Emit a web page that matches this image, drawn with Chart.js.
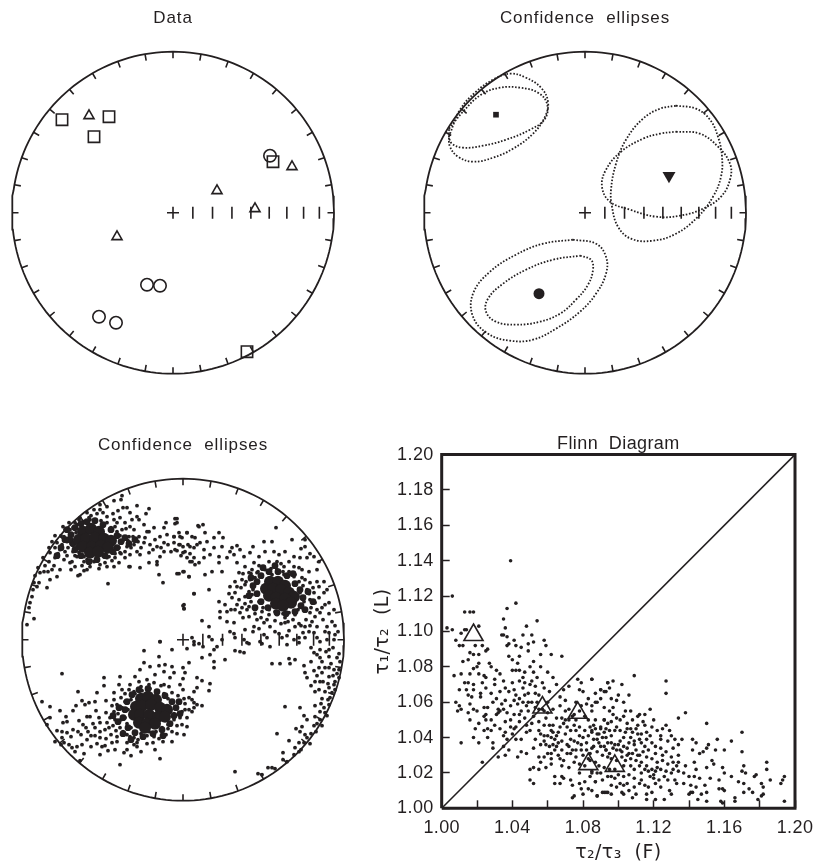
<!DOCTYPE html>
<html>
<head>
<meta charset="utf-8">
<title>AMS stereonets and Flinn diagram</title>
<script src="https://cdn.jsdelivr.net/npm/chart.js@4"></script>
<style>
  html, body { margin: 0; background: #fff; overflow: hidden; }
  canvas { position: absolute; }
</style>
</head>
<body>
<canvas id="netData" width="346" height="400" style="left:0;top:0"></canvas>
<canvas id="netEllipses" width="346" height="400" style="left:412px;top:0"></canvas>
<canvas id="netDots" width="346" height="400" style="left:10px;top:427px"></canvas>
<canvas id="flinn" width="446" height="438" style="left:370px;top:430px"></canvas>
<script>
// Net positions are in net units, the rim is at 161
const netRadius = 161;

// Panel 1: specimen axes
const tau1Squares = [[-111,93],[-64,96],[-79,76],[100,51],[74,-139]];
const tau2Triangles = [[-84,97],[119,46],[44,22],[82,4],[-56,-24]];
const tau3Circles = [[97,57],[-26,-72],[-13,-73],[-74,-104],[-57,-110]];

// Panel 2: means and confidence ellipses
const meanTau1 = [[-89,98]];
const meanTau2 = [[84,37]];
const meanTau3 = [[-46,-81]];
const ellipseTau1Wide = [[-135,79],[-125,103],[-109,121],[-92,133],[-75,139],[-59,135],[-44,125],[-37,111],[-40,96],[-52,79],[-72,64],[-92,55],[-112,51],[-127,56],[-135,66],[-136,76]];
const ellipseTau1Narrow = [[-136,84],[-122,101],[-104,118],[-85,125],[-65,125],[-47,120],[-38,109],[-40,94],[-55,83],[-79,73],[-102,67],[-122,65],[-133,69],[-136,76]];
const ellipseTau2Tall = [[91,107],[111,104],[125,93],[133,76],[137,56],[136,36],[128,16],[113,-4],[91,-21],[68,-28],[46,-26],[33,-14],[27,6],[26,23],[31,49],[41,73],[58,94],[75,104]];
const ellipseTau2Wide = [[91,81],[115,79],[133,66],[145,49],[145,33],[136,16],[118,4],[95,-3],[71,-4],[45,3],[25,11],[17,26],[21,43],[36,61],[58,74],[75,79]];
const ellipseTau3Inner = [[-5,-43],[6,-47],[8,-57],[3,-72],[-9,-87],[-25,-101],[-45,-109],[-69,-112],[-89,-109],[-99,-99],[-97,-86],[-82,-71],[-59,-57],[-32,-47]];
const ellipseTau3Outer = [[-12,-27],[11,-31],[21,-44],[21,-61],[11,-81],[-5,-99],[-29,-116],[-52,-127],[-75,-128],[-97,-121],[-112,-104],[-112,-81],[-95,-59],[-69,-42],[-42,-31]];

// Panel 3: bootstrap axes
const bootstrapCores = [
  [-100,108],[-92,111],[-84,108],[-104,100],[-97,101],[-88,102],[-79,101],[-72,99],[-100,93],[-91,93],[-82,94],[-75,92],[-93,87],[-85,88],
  [87,58],[95,58],[102,54],[83,51],[90,51],[98,50],[106,47],[111,43],[86,44],[93,42],[102,41],[108,37],[93,36],[100,34],
  [-42,-59],[-35,-57],[-27,-60],[-47,-67],[-41,-66],[-32,-65],[-23,-68],[-16,-70],[-49,-75],[-43,-75],[-34,-75],[-25,-77],[-18,-77],[-44,-83],[-36,-84],[-28,-84],[-38,-88]
];
const bootstrapFringes = [
  [-112,105],[-110,96],[-114,100],[-108,112],[-102,116],[-96,118],[-88,119],[-80,115],[-72,110],[-66,104],[-62,98],[-66,92],[-70,88],[-78,84],[-86,80],[-94,78],[-102,84],[-108,90],[-118,100],[-122,92],[-116,110],[-126,84],[-58,102],[-54,96],[-48,100],
  [74,58],[78,64],[86,68],[95,68],[104,64],[112,56],[117,50],[120,42],[118,34],[112,28],[103,26],[94,27],[85,32],[78,38],[74,46],[70,54],[66,44],[72,32],[122,30],[125,48],[110,66],[92,74],[80,72],[130,38],[68,62],
  [-56,-62],[-58,-70],[-60,-78],[-55,-88],[-48,-93],[-40,-97],[-30,-94],[-21,-90],[-13,-84],[-9,-76],[-7,-68],[-11,-62],[-18,-56],[-26,-52],[-35,-49],[-44,-50],[-51,-55],[-64,-68],[-65,-82],[-3,-74],[-4,-62],[-20,-96],[-60,-94],[-70,-76],[-52,-100]
];
const bootstrapDots = [
  [-61,144],[-62,140],[-69,139],[-46,134],[-34,131],[-56,132],[-60,132],[-65,129],[-76,133],[-83,135],[-8,121],[-6,117],[-17,117],[15,114],[-37,126],[-53,127],[-46,123],[-44,120],[-39,115],[-51,120],[-29,112],[-19,112],[-36,108],
  [-16,105],[-9,103],[-4,107],[4,107],[-1,102],[9,103],[-9,97],[-4,95],[0,93],[5,95],[14,95],[-6,89],[2,88],[7,86],[11,92],[4,82],[9,78],[12,75],
  [-28,100],[-23,103],[-19,97],[-26,93],[-33,95],[-39,97],[-34,87],[-43,85],[-19,88],[-23,83],[-26,78],[-34,77],[-43,72],[-53,73],[-26,75],[-6,66],[0,68],[6,63],[-24,65],[-20,57],[-75,56],[11,46],[0,34],[1,31],[-23,-2],
  [-113,110],[-119,103],[-126,97],[-116,98],[-123,90],[-133,87],[-128,82],[-134,78],[-119,80],[-113,77],[-139,68],[-131,70],[-123,70],[-143,67],[-126,63],[-133,60],[-136,52],[-144,57],[-146,53],[-149,57],[-153,37],[-154,32],[-151,43],[-156,15],[-149,21],
  [-103,65],[-105,64],[-96,70],[-99,69],[-111,78],[-106,83],[-99,78],[-86,80],[-83,75],[-76,73],[-69,73],[-54,73],
  [-103,122],[-96,127],[-89,130],[-83,130],[-108,117],[-99,117],[-93,120],[-76,123],[-69,120],[-63,122],[-58,117],[-68,113],[-49,110],[-44,103],[-54,103],[-61,110],[-56,93],[-63,87],[-68,82],[-76,82],[-49,95],[-46,88],[-53,85],[-58,82],[-89,78],[-96,80],[-106,93],[-111,100],[-104,110],
  [-6,121],[-8,116],[16,113],[20,115],[-9,103],[-3,103],[4,107],[12,102],[22,107],[31,102],[36,107],[40,102],[24,98],[17,97],[7,93],[-3,95],[-8,90],[0,87],[11,82],[21,90],[31,92],[39,93],[27,85],[36,83],[21,82],[16,77],[7,78],[36,77],[29,68],[22,65],[39,68],[1,68],[6,63],[-4,66],[11,46],[26,50],[1,35],[1,31],[19,19],[26,13],
  [93,112],[81,98],[89,98],[109,100],[122,100],[122,93],[118,91],[70,93],[54,94],[49,92],[82,88],[91,88],[96,85],[102,88],[127,86],[131,83],[111,83],[117,82],[124,82],[136,78],[94,78],[86,78],[76,83],[67,87],[57,90],[51,85],[44,82],[47,88],[61,83],[54,77],[62,73],[71,77],[81,73],[91,73],[101,73],[111,73],[119,70],[126,68],[134,70],[56,67],[66,67],[74,67],[52,58],[59,60],[67,60],[47,53],[54,53],[62,55],[71,55],[79,63],[89,65],[101,65],[111,63],[119,62],[127,57],[134,58],[141,58],[136,53],[144,50],[141,47],[131,47],[124,50],[121,43],[127,40],[136,42],[146,37],[142,35],[151,30],
  [36,38],[42,35],[49,42],[56,40],[62,43],[69,45],[37,28],[44,28],[52,30],[59,32],[66,33],[72,30],[79,28],[86,25],[94,25],[102,22],[112,25],[121,30],[127,27],[132,23],[137,27],[37,22],[44,18],[51,17],[57,27],[66,23],[74,20],[81,17],[102,17],[122,13],[129,18],[134,13],[144,13],[149,18],[47,8],[62,10],[71,13],[87,13],[51,6],[120,7],[126,8],[131,7],[146,7],[152,5],[81,5],[84,2],[99,2],[111,0],[116,2],[134,2],[137,-2],[144,0],[151,0],[9,2],[11,-2],[26,3],[29,0],[39,0],[52,2],[61,0],[64,-3],[77,-2],
  [131,-13],[134,-15],[137,-10],[146,-10],[154,-18],[157,-22],[139,-22],[146,-17],[136,-28],[142,-28],[151,-30],[156,-30],[131,-31],[139,-33],[146,-37],[122,-33],[124,-38],[132,-42],[137,-42],[152,-42],[156,-38],[151,-45],[146,-48],[142,-52],[132,-52],[149,-53],[147,-58],[139,-59],[146,-65],[141,-68],[132,-66],[137,-72],[142,-73],[132,-77],[137,-80],[134,-84],[131,-86],[124,-80],[117,-68],[102,-67],[121,-76],[119,-87],[113,-89],[117,-92],[122,-95],[124,-98],[116,-103],[121,-103],[112,-108],[111,-115],[116,-112],[106,-101],[94,-94],[100,-113],[100,-120],[104,-122],[85,-128],[89,-128],[92,-129],[79,-135],[75,-134],[52,-132],
  [89,-24],[97,-24],[106,-19],[107,-24],[112,-20],[121,-26],[19,-18],[27,-15],[31,-22],[31,-28],[42,-20],[31,-10],[34,-7],[52,-11],[57,-12],[61,-13],[-11,-10],[-39,-11],[-24,-17],[4,-9],[11,-5],[16,-4],[20,-7],[-23,-2],[66,-4],[79,-4],[87,-7],[104,-5],[116,-3],
  [-39,-23],[-33,-27],[-24,-26],[-18,-25],[-11,-27],[6,-23],[0,-28],[-43,-30],[-19,-32],[-9,-33],[2,-33],[-48,-37],[-63,-37],[-79,-38],[-28,-35],[-36,-40],[-44,-42],[-13,-38],[0,-39],[14,-38],[19,-41],[27,-44],[-79,-46],[-64,-45],[-53,-45],[-29,-43],[-19,-45],[-3,-45],[14,-48],[26,-51],[-69,-53],[-61,-50],[-49,-52],[-11,-53],[0,-50],[11,-52],[-105,-52],[-86,-53],[-121,-34],[-69,-60],[-77,-61],[-101,-61],[-88,-62],[6,-58],[1,-59],[11,-63],[-141,-62],[-133,-67],[-107,-66],[-98,-65],[-94,-63],[-66,-65],[-61,-68],[19,-66],[11,-68],[6,-70],[-123,-71],[-110,-71],[-87,-71],[-77,-73],[-69,-72],[-133,-78],[-117,-77],[-104,-81],[-93,-77],[-84,-78],[-96,-77],[-68,-80],[4,-78],[9,-72],[-120,-83],[-116,-82],[-83,-83],[-76,-83],[-136,-85],[-110,-90],[-97,-88],[-88,-88],[-74,-88],[-63,-88],[4,-87],[-1,-85],[-126,-91],[-121,-92],[-95,-92],[-83,-92],[-102,-95],[-88,-96],[-56,-95],[-66,-97],[-11,-92],[-17,-95],[1,-95],[-121,-98],[-77,-99],[-83,-98],[-49,-98],[-39,-98],[-29,-97],[-119,-103],[-101,-105],[-92,-107],[-81,-107],[-71,-103],[-66,-102],[-56,-103],[-46,-103],[-36,-104],[-30,-103],[-20,-102],[-11,-102],[-114,-105],[-106,-107],[-111,-108],[-108,-112],[-99,-114],[-83,-115],[-75,-111],[-68,-110],[-59,-113],[-52,-116],[-42,-112],[-28,-110],[-23,-119],[-63,-125],[-103,-121],[-46,-107],[-56,-110],[-49,-105]
];
// Denser shells round the three clusters and along the rim
const bootstrapShells = [
  [-110,112],[-106,115],[-112,104],[-115,92],[-110,88],[-108,84],[-104,120],[-100,118],[-94,122],[-88,120],[-82,119],[-76,117],[-72,112],[-66,108],[-63,104],[-60,99],[-64,92],[-62,86],[-68,86],[-74,83],[-80,84],[-86,80],[-92,79],[-99,83],[-104,87],[-118,110],[-122,104],[-128,92],[-131,98],[-125,86],[-121,95],[-138,74],[-135,68],[-129,74],[-112,70],[-108,73],[-101,74],[-93,73],[-84,71],[-78,77],[-71,79],[-64,77],[-58,88],[-52,92],[-55,99],[-50,103],[-45,98],[-42,92],[-38,102],[-34,108],[-30,90],[-22,92],[-15,95],[-12,88],[-2,84],
  [-118,88],[-112,96],[-107,107],[-114,117],[-120,113],[-128,104],[-134,92],[-140,82],[-145,72],[-148,64],[-150,50],[-116,84],[-92,124],[-86,126],[-80,127],[-70,126],[-66,117],[-57,111],[-53,113],
  [68,66],[72,62],[75,68],[82,70],[88,71],[94,70],[100,68],[106,68],[112,65],[116,58],[120,54],[117,47],[121,38],[119,32],[115,30],[112,26],[106,27],[100,26],[92,28],[86,30],[80,32],[76,38],[74,45],[70,50],[66,48],[63,58],[58,52],[62,36],[68,38],[64,30],[72,26],[78,22],[84,20],[92,19],[98,16],[105,18],[110,20],[116,16],[123,20],[128,32],[132,37],[126,46],[130,52],[122,60],[116,72],[106,78],[98,76],[76,74],[69,70],[60,66],[52,47],[46,46],[54,35],[48,30],[60,22],[70,8],[76,11],[92,8],[106,9],[112,13],[118,14],[140,20],[146,26],[139,32],[134,30],[152,14],[155,8],[142,8],[127,14],[96,6],[104,4],[122,2],
  [-58,-62],[-55,-70],[-58,-78],[-56,-84],[-52,-88],[-48,-92],[-42,-94],[-34,-92],[-27,-92],[-21,-88],[-15,-85],[-9,-80],[-9,-74],[-8,-68],[-11,-62],[-15,-59],[-19,-54],[-26,-52],[-33,-49],[-41,-51],[-48,-54],[-52,-60],[-62,-58],[-65,-74],[-62,-80],[-60,-92],[-53,-97],[-45,-100],[-36,-96],[-24,-99],[-15,-89],[-6,-86],[-3,-78],[-1,-72],[-3,-63],[-5,-56],[-14,-47],[-22,-46],[-34,-45],[-42,-47],[-54,-50],[-58,-54],[-71,-66],[-73,-78],[-70,-86],[-78,-90],[-90,-84],[-100,-85],[-105,-92],[-92,-96],[-96,-100],[-86,-104],[-78,-106],[-72,-95],[-67,-91],[-112,-97],[-116,-93],[-128,-102],[-122,-105],[-6,-94],[2,-70],[2,-64],[9,-60],[14,-65],
  [150,-8],[148,-24],[143,-12],[137,-18],[128,-22],[128,-8],[140,-42],[145,-44],[152,-50],[145,-60],[138,-64],[136,-50],[128,-46],[144,-76],[139,-86],[133,-92],[128,-94],[127,-104],[118,-110],[154,-34],[150,-36],[156,-14],[146,-28],[134,-36]
];

// Panel 4: Flinn diagram, thousandths above 1 as [F, L]
const flinnDots = [
  [6,120],[3,102],[6,101],[13,111],[16,111],[18,111],[39,140],[37,113],[42,116],[35,107],[36,102],[54,106],[48,103],[34,98],[35,98],[37,97],[46,98],[51,98],[58,95],[38,93],[41,95],[52,94],[49,93],[37,92],[42,92],[45,91],[49,89],[59,92],[56,87],[62,87],[68,86],[44,86],[38,86],[8,95],[11,99],[13,101],[14,101],[21,103],[10,92],[12,92],[16,88],[19,92],[23,92],[25,89],[26,90],[18,87],[21,87],
  [12,83],[20,80],[21,82],[27,82],[28,80],[31,78],[33,76],[7,75],[11,76],[24,75],[25,74],[30,73],[13,71],[15,71],[18,70],[10,67],[14,67],[18,67],[25,68],[28,65],[22,65],[15,64],[17,63],[8,60],[10,58],[11,56],[9,55],[16,59],[18,56],[20,55],[24,57],[26,57],[22,63],[15,54],[16,50],[25,53],[25,50],[28,50],[31,53],[32,56],[32,54],[34,59],[36,61],[24,44],[26,45],[30,47],[26,40],[11,37],[18,40],[21,37],[29,37],[29,34],[23,26],[32,29],[36,30],[35,35],[38,33],[37,39],[39,46],[41,45],[42,46],[37,54],[33,55],[39,58],[41,61],[43,59],[46,60],[48,58],[36,68],[38,66],[40,71],[41,67],[42,64],[40,78],[42,78],[44,78],[47,77],[50,80],[52,77],[54,74],[47,71],[50,70],[57,71],[53,65],[55,64],[49,65],[45,55],[47,51],[44,53],[41,53],[48,47],[50,44],[45,39],[42,39],[45,32],[48,31],[43,29],[52,34],[52,23],[50,22],[50,16],[52,14],[55,29],[58,29],[56,26],[62,28],[59,23],[55,22],[62,25],
  [55,56],[57,56],[58,55],[59,51],[61,47],[56,42],[58,41],[60,41],[62,40],[63,43],[65,41],[59,36],[61,35],[63,36],[64,39],[67,46],[68,51],[65,51],[70,50],[71,46],[73,44],[75,47],[76,50],[78,46],[75,53],[72,56],[70,61],[67,63],[69,67],[72,69],[77,73],[79,71],[78,67],[80,66],[85,73],[90,67],[94,71],[93,66],[88,60],[82,59],[85,55],[83,50],[86,47],[90,45],[92,50],[94,48],[80,40],[83,41],[86,39],[89,37],[92,35],[93,33],[77,37],[75,38],[72,35],[68,33],[66,30],[69,27],[73,31],[76,29],[80,30],[84,31],[88,32],[91,30],[94,29],[83,28],[68,24],[72,23],[64,18],[68,18],[69,17],[64,14],[67,14],[73,16],[74,13],[78,14],[81,15],[87,15],[75,7],[80,8],[88,7],[92,9],[94,9],[74,6],[78,20],[85,21],
  [55,44],[58,38],[62,44],[66,37],[70,42],[73,39],[76,44],[79,36],[82,37],[85,43],[88,42],[91,40],[94,37],[96,41],[98,36],[101,38],[103,40],[105,34],[107,40],[109,36],[111,42],[113,37],[96,28],[99,27],[102,29],[104,27],[107,28],[110,27],[113,26],[116,24],[119,22],[121,21],[124,22],[120,17],[123,16],[126,18],[128,16],
  [85,73],[94,71],[97,72],[102,70],[109,75],[127,72],[127,65],[95,68],[92,66],[90,67],[106,64],[100,64],[99,61],[103,60],[87,60],[85,58],[92,57],[97,57],[95,55],[104,55],[107,55],[118,56],[138,54],[134,51],[150,48],[112,53],[115,53],[120,50],[103,52],[99,51],[108,50],[92,50],[87,50],[96,49],[127,47],[115,47],[111,47],[105,48],[90,46],[93,45],[85,44],[99,46],[129,44],[124,41],[130,41],[136,39],[132,39],[142,39],[144,37],[170,43],[164,38],[156,39],[151,36],[155,33],[160,33],[170,32],[142,33],[150,34],[146,31],[148,32],[128,38],[134,36],[131,34],[124,39],[116,39],[115,35],[118,41],[109,38],[112,39],[106,37],[103,35],[101,33],[96,37],[93,40],[88,39],[86,35],[90,35],[93,33],[95,31],[99,33],[106,31],[110,33],[112,30],[116,29],[121,31],[127,32],[130,29],[134,30],[134,26],[131,26],[138,24],[143,26],[144,22],[150,23],[153,27],[154,25],[159,23],[160,20],[164,18],[171,24],[170,21],[172,20],[184,26],[184,22],[186,16],[178,19],[177,18],[181,14],[182,12],[194,18],[193,16],[192,14],[171,14],[168,15],[174,11],[176,9],[171,9],[182,8],[181,7],[166,6],[166,4],[158,4],[159,3],[150,4],[145,5],[194,4],[179,5],[141,9],[142,9],[140,8],[147,8],[150,9],[137,14],[141,13],[144,12],[149,13],[152,17],[157,16],[157,11],[159,11],[160,10],[132,16],[133,14],[129,10],[130,8],[126,5],[121,5],[116,5],[119,9],[116,8],[110,8],[108,6],[106,10],[102,9],[103,8],[96,8],[93,9],[91,9],[88,7],[109,12],[105,14],[101,14],[98,17],[96,18],[87,15],[113,20],[117,21],[120,19],[122,23],[130,20],[124,12],[121,14],[117,12],[113,16],[103,24],[109,22],[107,24],[90,20],[88,20],[85,20],[84,27],
  [44,72],[46,74],[51,72],[53,69],[58,68],[61,66],[47,64],[51,60],[53,57],[49,55],[52,52],[55,49],[58,47],[51,48],[48,43],[53,39],[56,36],[60,31],[65,35],[68,38],[71,36],[74,33],[63,47],[66,43],[69,48],[72,50],[74,52],[78,41],[81,44],[84,46],[87,45],[89,42],[92,43],[95,44],[98,44],[101,44],[104,43],[107,45],[110,45],[113,42],[116,43],[119,37],[121,35],[124,34],[97,34],[100,36],[102,32],[105,30],[108,31],[111,30],[114,32],[117,33],[119,28],[122,26],[125,27],[128,25],[131,22],[134,21],[137,20],[140,18],[143,18],[146,17],[112,24],[115,22],[118,18],[127,21],[133,24],[125,30],[82,33],[85,34],[79,33],[76,33],[71,31],[64,33],[62,31],[67,28],[75,26],[78,25],[81,24],[87,26],[89,24],[92,23],[95,22],[98,22],[100,19],[103,18],[106,19],[109,17],[112,14],[115,13],[94,18],[91,16],[84,18],[79,11],[83,11],[85,10],[96,13],[99,12],[103,13],[21,48],[24,52],[28,44],[33,45],[35,41],[19,45],[29,60],[35,56],[31,62],[36,49],[39,50],[44,49],[40,42],[36,43],[46,68],[44,62],[49,60],[33,66],[30,70],[35,72],[21,76],[18,79],[15,84],[23,71],[16,76],[40,84],[43,82],[52,83],[56,80],[60,77],[63,74],[65,70],[67,58],[70,55],[63,56],[60,60],[60,54],[54,60],[76,60],[79,58],[83,62],[87,65],[90,62],[96,62],[78,55],[81,52],[97,53],[101,50],[105,45],[108,43],[111,52],[114,49],[119,46],[122,44],[125,45]
];
const flinnMeans = [[18,98],[57,57],[77,54],[83,25],[98,24]];

const xTickLabels = ['1.00','','1.04','','1.08','','1.12','','1.16','','1.20'];
const yTickLabels = ['1.00','1.02','1.04','1.06','1.08','1.10','1.12','1.14','1.16','1.18','1.20'];

const ink = '#231f20';

const toXY = pairs => pairs.map(p => ({ x: p[0], y: p[1] }));
const closed = pairs => toXY(pairs.concat([pairs[0]]));
const toFlinn = pairs => pairs.map(p => ({ x: 1 + p[0] / 1000, y: 1 + p[1] / 1000 }));

// Stereonet frame: rim, 10 degree rim ticks, centre cross and plunge ticks along east
function netFrame() {
    const rim = [];
    for (let a = 0; a <= 360; a += 2) {
        rim.push({ x: netRadius * Math.sin(a * Math.PI / 180), y: netRadius * Math.cos(a * Math.PI / 180) });
    }
    const marks = [];
    const gap = { x: NaN, y: NaN };
    for (let a = 0; a < 360; a += 10) {
        const s = Math.sin(a * Math.PI / 180), c = Math.cos(a * Math.PI / 180);
        marks.push({ x: netRadius * s, y: netRadius * c }, { x: (netRadius - 6.5) * s, y: (netRadius - 6.5) * c }, gap);
    }
    marks.push({ x: -6, y: 0 }, { x: 6, y: 0 }, gap, { x: 0, y: -6 }, { x: 0, y: 6 }, gap);
    for (let p = 80; p >= 10; p -= 10) {
        const r = netRadius * Math.SQRT2 * Math.sin((90 - p) / 2 * Math.PI / 180);
        marks.push({ x: r, y: -6 }, { x: r, y: 6 }, gap);
    }
    return [
        { data: rim, showLine: true, pointRadius: 0, borderColor: ink, borderWidth: 1.8, clip: false },
        { data: marks, showLine: true, pointRadius: 0, borderColor: ink, borderWidth: 1.6, clip: false }
    ];
}

function openMarks(pairs, style, radius) {
    return { data: toXY(pairs), pointStyle: style, pointRadius: radius, pointBackgroundColor: 'transparent', pointBorderColor: ink, pointBorderWidth: 1.6, clip: false };
}

function filledMarks(pairs, style, radius, rotation) {
    return { data: toXY(pairs), pointStyle: style, pointRadius: radius, pointRotation: rotation || 0, pointBackgroundColor: ink, pointBorderColor: ink, pointBorderWidth: 0, clip: false };
}

function dottedLine(pairs) {
    return { data: closed(pairs), showLine: true, tension: 0.4, pointRadius: 0, borderColor: ink, borderWidth: 1.8, borderDash: [1.6, 1.7], clip: false };
}

const spacedText = spacing => ({
    id: 'spacedText',
    beforeDraw(chart) { chart.ctx.letterSpacing = spacing; }
});

function makeNet(id, title, datasets) {
    new Chart(document.getElementById(id), {
        type: 'scatter',
        data: { datasets: netFrame().concat(datasets) },
        plugins: [spacedText('0.9px')],
        options: {
            responsive: false,
            animation: false,
            layout: { autoPadding: false, padding: { left: 12, right: 12, top: 8, bottom: 26.3 } },
            scales: {
                x: { display: false, min: -netRadius, max: netRadius },
                y: { display: false, min: -netRadius, max: netRadius }
            },
            plugins: {
                legend: { display: false },
                tooltip: { enabled: false },
                title: {
                    display: true,
                    text: title,
                    color: ink,
                    font: { family: "'Liberation Sans'", size: 17, weight: 'normal', lineHeight: 1.2 },
                    padding: { top: 0, bottom: 23.3 }
                }
            }
        }
    });
}

makeNet('netData', 'Data', [
    openMarks(tau1Squares, 'rect', 8),
    openMarks(tau2Triangles, 'triangle', 5.8),
    openMarks(tau3Circles, 'circle', 6.2)
]);

makeNet('netEllipses', 'Confidence  ellipses', [
    dottedLine(ellipseTau1Wide),
    dottedLine(ellipseTau1Narrow),
    dottedLine(ellipseTau2Tall),
    dottedLine(ellipseTau2Wide),
    dottedLine(ellipseTau3Inner),
    dottedLine(ellipseTau3Outer),
    filledMarks(meanTau1, 'rect', 4),
    filledMarks(meanTau2, 'triangle', 7.5, 180),
    filledMarks(meanTau3, 'circle', 5.5)
]);

makeNet('netDots', 'Confidence  ellipses', [
    filledMarks(bootstrapCores, 'circle', 6),
    filledMarks(bootstrapFringes, 'circle', 3.4),
    filledMarks(bootstrapDots, 'circle', 1.9),
    filledMarks(bootstrapShells, 'circle', 1.9)
]);

// Flinn diagram
const frameLine = [{ x: 1, y: 1 }, { x: 1, y: 1.2 }, { x: 1.2, y: 1.2 }, { x: 1.2, y: 1 }, { x: 1, y: 1 }];
const unitLine = [{ x: 1, y: 1 }, { x: 1.2, y: 1.2 }];

const axisFont = { family: "'Liberation Sans'", size: 18, weight: 'normal', lineHeight: 1.2 };
const titleFont = { family: "'DejaVu Sans'", size: 19, weight: 'normal', lineHeight: 1.2 };

new Chart(document.getElementById('flinn'), {
    type: 'scatter',
    data: {
        datasets: [
            { data: toFlinn(flinnDots), pointRadius: 1.8, pointBackgroundColor: ink, pointBorderWidth: 0, clip: false },
            { data: unitLine, showLine: true, pointRadius: 0, borderColor: ink, borderWidth: 1.6 },
            { data: toFlinn(flinnMeans), pointStyle: 'triangle', pointRadius: 11, pointBackgroundColor: 'transparent', pointBorderColor: ink, pointBorderWidth: 1.6, clip: false },
            { data: frameLine, showLine: true, pointRadius: 0, borderColor: ink, borderWidth: 3, clip: false }
        ]
    },
    plugins: [spacedText('0.4px')],
    options: {
        responsive: false,
        animation: false,
        layout: { autoPadding: false, padding: { left: 0, right: 21, top: 3, bottom: 0 } },
        scales: {
            x: {
                min: 1,
                max: 1.2,
                // pin the plot box, end labels may hang over it
                afterFit(scale) { scale.height = 59.7; scale.paddingLeft = 0; scale.paddingRight = 0; },
                border: { display: false },
                grid: { drawOnChartArea: false, drawTicks: true, tickLength: -8, tickWidth: 1.5, tickColor: ink },
                ticks: {
                    stepSize: 0.02,
                    autoSkip: false,
                    maxRotation: 0,
                    padding: 17,
                    color: ink,
                    font: axisFont,
                    callback: (value, index) => xTickLabels[index]
                },
                title: { display: true, text: 'τ₂/τ₃  (F)', color: ink, font: titleFont, padding: { top: 0, bottom: 4 } }
            },
            y: {
                min: 1,
                max: 1.2,
                afterFit(scale) { scale.width = 71.7; scale.paddingTop = 0; scale.paddingBottom = 0; },
                border: { display: false },
                grid: { drawOnChartArea: false, drawTicks: true, tickLength: -8, tickWidth: 1.5, tickColor: ink },
                ticks: {
                    stepSize: 0.02,
                    autoSkip: false,
                    padding: 16,
                    color: ink,
                    font: axisFont,
                    callback: (value, index) => yTickLabels[index]
                },
                title: { display: true, text: 'τ₁/τ₂  (L)', color: ink, font: titleFont, padding: { top: 2, bottom: 0 } }
            }
        },
        plugins: {
            legend: { display: false },
            tooltip: { enabled: false },
            title: {
                display: true,
                text: 'Flinn  Diagram',
                fullSize: false,
                color: ink,
                font: { family: "'Liberation Sans'", size: 18, weight: 'normal', lineHeight: 1.2 },
                padding: { top: 0, bottom: 0 }
            }
        }
    }
});
</script>
</body>
</html>
